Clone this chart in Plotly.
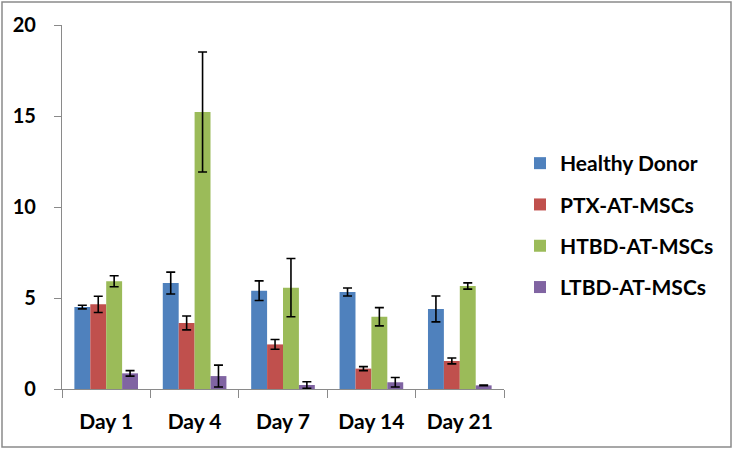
import plotly.graph_objects as go

days = ["Day 1", "Day 4", "Day 7", "Day 14", "Day 21"]
series_names = ["Healthy Donor", "PTX-AT-MSCs", "HTBD-AT-MSCs", "LTBD-AT-MSCs"]
healthy = [4.5, 5.82, 5.4, 5.33, 4.4]
healthy_err = [0.1, 0.6, 0.54, 0.22, 0.71]
ptx = [4.65, 3.63, 2.45, 1.12, 1.54]
ptx_err = [0.45, 0.38, 0.27, 0.11, 0.16]
htbd = [5.92, 15.22, 5.57, 3.97, 5.66]
htbd_err = [0.3, 3.3, 1.6, 0.5, 0.17]
ltbd = [0.86, 0.71, 0.22, 0.37, 0.2]
ltbd_err = [0.15, 0.6, 0.18, 0.26, 0.02]
colors = ["#4F81BD", "#C0504D", "#9BBB59", "#8064A2"]

values = [healthy, ptx, htbd, ltbd]
errors = [healthy_err, ptx_err, htbd_err, ltbd_err]

FONT = "Lato"
fig = go.Figure()
for name, v, e, c in zip(series_names, values, errors, colors):
    fig.add_trace(go.Bar(
        x=days, y=v, name=name, legendgroup=name,
        marker=dict(color=c, line=dict(width=0)),
        error_y=dict(type="data", array=e, visible=True, color="black",
                     thickness=1.6, width=4.5),
    ))

L, R, T, B = 62, 504, 25, 389
W, H = 733, 450
fig.update_layout(
    width=W, height=H,
    margin=dict(l=L, r=W - R, t=T, b=H - B, pad=0),
    paper_bgcolor="white", plot_bgcolor="white",
    barmode="group", bargap=0.28, bargroupgap=0,
    showlegend=True,
    legend=dict(x=(520 - L) / (R - L), xanchor="left",
                y=(B - 143) / (B - T), yanchor="top",
                font=dict(family=FONT, size=21, color="black", weight="bold"),
                traceorder="grouped", tracegroupgap=11, itemwidth=30,
                bgcolor="rgba(0,0,0,0)"),
    font=dict(family=FONT, color="black"),
    shapes=[dict(type="rect", xref="paper", yref="paper",
                 x0=(2 - L) / (R - L), x1=(731 - L) / (R - L),
                 y0=(B - 447) / (B - T), y1=(B - 2) / (B - T),
                 line=dict(color="#8a8a8a", width=1.5), layer="below")],
)
fig.update_xaxes(
    showline=True, linecolor="#8a8a8a", linewidth=1.2,
    ticks="outside", tickson="boundaries", ticklen=8, tickcolor="#8a8a8a",
    tickfont=dict(family=FONT, size=21, color="black", weight="bold"),
    ticklabelstandoff=14, showgrid=False,
)
fig.update_yaxes(
    range=[0, 20], dtick=5, showline=True, linecolor="#8a8a8a", linewidth=1.2,
    ticks="outside", ticklen=7, tickcolor="#8a8a8a",
    tickfont=dict(family=FONT, size=20, color="black", weight="bold"),
    ticklabelstandoff=14, showgrid=False, zeroline=False,
)
fig.write_html("out.html", config={"displayModeBar": False},
               post_script="document.body.style.margin='0px';document.body.style.overflow='hidden';")
